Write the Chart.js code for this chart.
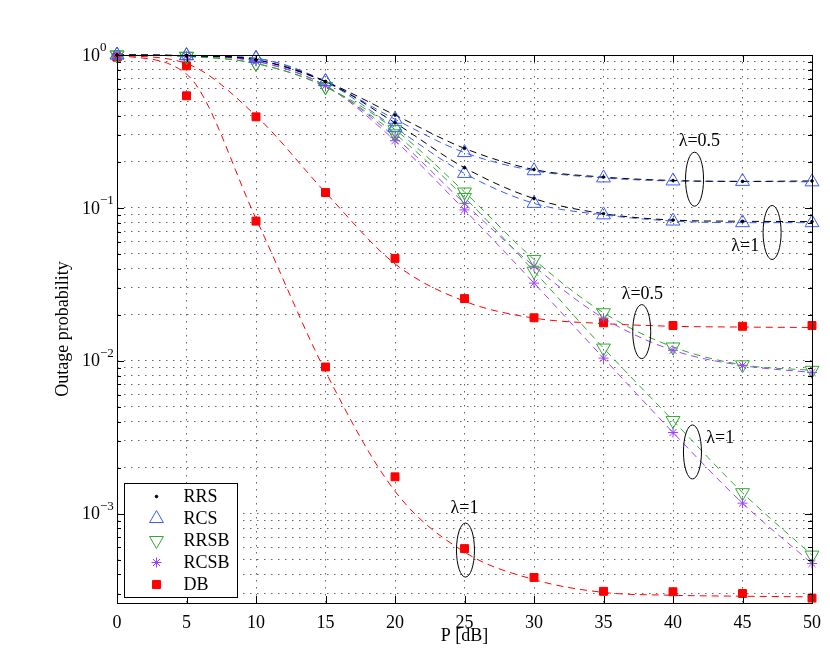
<!DOCTYPE html>
<html><head><meta charset="utf-8">
<script src="https://cdn.jsdelivr.net/npm/chart.js@4.4.0/dist/chart.umd.min.js"></script>
<style>html,body{margin:0;padding:0;background:#fff;}canvas{display:block;}</style>
</head><body>
<canvas id="c" width="830" height="654"></canvas>
<script>
// ---------- data ----------
const P = [0, 5, 10, 15, 20, 25, 30, 35, 40, 45, 50];

const RRS_05  = [1.0, 0.99, 0.93, 0.67, 0.405, 0.245, 0.178, 0.159, 0.151, 0.149, 0.150];
const RRS_1   = [1.0, 0.99, 0.93, 0.67, 0.36, 0.183, 0.115, 0.0916, 0.0832, 0.0817, 0.0813];
const RCS_05  = [1.0, 0.99, 0.95, 0.67, 0.38, 0.23, 0.175, 0.157, 0.150, 0.149, 0.148];
const RCS_1   = [1.0, 0.99, 0.95, 0.67, 0.335, 0.168, 0.107, 0.090, 0.082, 0.080, 0.080];
const RRSB_05 = [1.0, 0.98, 0.88, 0.62, 0.325, 0.127, 0.046, 0.0206, 0.0123, 0.0094, 0.00865];
const RRSB_1  = [1.0, 0.98, 0.88, 0.62, 0.305, 0.117, 0.0385, 0.0121, 0.00406, 0.00137, 0.000535];
const RCSB_05 = [1.0, 0.985, 0.91, 0.63, 0.29, 0.107, 0.0415, 0.019, 0.0117, 0.0093, 0.00838];
const RCSB_1  = [1.0, 0.985, 0.91, 0.63, 0.275, 0.097, 0.0322, 0.0104, 0.00339, 0.00117, 0.000471];
const DB_05   = [0.97, 0.85, 0.394, 0.126, 0.0467, 0.0255, 0.0191, 0.0177, 0.0170, 0.0168, 0.0170];
const DB_1    = [0.97, 0.541, 0.0819, 0.0091, 0.00174, 0.00059, 0.000382, 0.00031, 0.000308, 0.0003, 0.00028];

// analytical (dashed) curves where they differ from the simulated markers
const DB_05_line = [1.0, 0.88, 0.40, 0.126, 0.043, 0.0245, 0.019, 0.0175, 0.0168, 0.0166, 0.0165];
const DB_1_line  = [1.0, 0.75, 0.085, 0.0085, 0.0014, 0.00056, 0.00037, 0.000305, 0.000292, 0.000288, 0.000285];

const xTickVals = [0, 5, 10, 15, 20, 25, 30, 35, 40, 45, 50];
const yGridTicks = [0.0003, 0.0004, 0.0005, 0.0006, 0.0007, 0.0008, 0.0009,
  0.001, 0.002, 0.003, 0.004, 0.005, 0.006, 0.007, 0.008, 0.009,
  0.01, 0.02, 0.03, 0.04, 0.05, 0.06, 0.07, 0.08, 0.09,
  0.1, 0.2, 0.3, 0.4, 0.5, 0.6, 0.7, 0.8, 0.9, 1];
const yLabelVals = [1, 0.1, 0.01, 0.001];
const yLabelExps = ['0', '\u22121', '\u22122', '\u22123'];

const noteText = ['\u03bb=0.5', '\u03bb=1', '\u03bb=0.5', '\u03bb=1', '\u03bb=1'];
const noteX = [41.9, 45.2, 37.8, 43.4, 25.0];
const noteY = [0.273, 0.056, 0.0271, 0.00313, 0.00109];
const ringX = [41.55, 47.13, 37.75, 41.4, 25.07];
const ringY = [0.154, 0.069, 0.0155, 0.00253, 0.000577];

// ---------- styles ----------
const schemes = [
  {label: 'RRS',  color: '#000000', fill: '#000000', style: 'circle',   radius: 1.3, rot: 0,   sim: [RRS_05, RRS_1],   line: [RRS_05, RRS_1]},
  {label: 'RCS',  color: '#3a5cff', fill: 'rgba(0,0,0,0)', style: 'triangle', radius: 8, rot: 0,   sim: [RCS_05, RCS_1],   line: [RCS_05, RCS_1]},
  {label: 'RRSB', color: '#2eaa2e', fill: 'rgba(0,0,0,0)', style: 'triangle', radius: 8, rot: 180, sim: [RRSB_05, RRSB_1], line: [RRSB_05, RRSB_1]},
  {label: 'RCSB', color: '#a040ff', fill: 'rgba(0,0,0,0)', style: 'star',     radius: 5, rot: 0,   sim: [RCSB_05, RCSB_1], line: [RCSB_05, RCSB_1]},
  {label: 'DB',   color: '#ff0000', fill: '#ff0000', style: 'rect',     radius: 5.6, rot: 0, sim: [DB_05, DB_1],     line: [DB_05_line, DB_1_line]}
];

const toPts = arr => P.map((p, i) => ({x: p, y: arr[i]}));
const datasets = [];
schemes.forEach(s => {
  s.line.forEach(arr => datasets.push({
    label: s.label + ' curve', data: toPts(arr), showLine: true,
    borderColor: s.color, borderWidth: 1, borderDash: [7, 5],
    pointRadius: 0, fill: false, cubicInterpolationMode: 'monotone', clip: false, order: 2
  }));
  s.sim.forEach(arr => datasets.push({
    label: s.label, data: toPts(arr), showLine: false,
    pointStyle: s.style, pointRadius: s.radius, pointRotation: s.rot,
    pointBorderColor: s.color, pointBackgroundColor: s.fill, pointBorderWidth: 1,
    clip: false, order: 1
  }));
});

const FONT = '"Liberation Serif", "Times New Roman", serif';

const decor = {
  id: 'decor',
  afterDraw(chart) {
    const {ctx, chartArea: a, scales: {x, y}} = chart;
    ctx.save();
    // frame
    ctx.strokeStyle = '#000'; ctx.lineWidth = 1;
    ctx.strokeRect(Math.round(a.left) + 0.5, Math.round(a.top) + 0.5, Math.round(a.right - a.left), Math.round(a.bottom - a.top));
    // inward ticks
    ctx.beginPath();
    xTickVals.forEach(v => {
      const px = Math.round(x.getPixelForValue(v)) + 0.5;
      ctx.moveTo(px, a.bottom); ctx.lineTo(px, a.bottom - 7);
      ctx.moveTo(px, a.top); ctx.lineTo(px, a.top + 7);
    });
    yGridTicks.forEach(v => {
      const py = Math.round(y.getPixelForValue(v)) + 0.5;
      const major = yLabelVals.includes(v);
      const len = major ? 7 : 4;
      ctx.moveTo(a.left, py); ctx.lineTo(a.left + len, py);
      ctx.moveTo(a.right, py); ctx.lineTo(a.right - len, py);
    });
    ctx.stroke();
    // y tick labels 10^n
    ctx.fillStyle = '#000';
    yLabelVals.forEach((v, i) => {
      const py = y.getPixelForValue(v);
      ctx.font = '18px ' + FONT;
      ctx.textAlign = 'right'; ctx.textBaseline = 'middle';
      ctx.fillText('10', a.left - 17, py + 1);
      ctx.font = '13px ' + FONT;
      ctx.textAlign = 'left';
      ctx.fillText(yLabelExps[i], a.left - 17, py - 7);
    });
    // annotations
    ctx.font = '18px ' + FONT;
    ctx.textAlign = 'center'; ctx.textBaseline = 'middle';
    noteText.forEach((t, i) => ctx.fillText(t, x.getPixelForValue(noteX[i]), y.getPixelForValue(noteY[i])));
    ctx.lineWidth = 1; ctx.strokeStyle = '#000';
    ringX.forEach((rx, i) => {
      ctx.beginPath();
      ctx.ellipse(x.getPixelForValue(rx), y.getPixelForValue(ringY[i]), 9, 27, 0, 0, Math.PI * 2);
      ctx.stroke();
    });
    // legend box
    const bx = a.left + 7.5, by = a.top + 428.5, bw = 113, bh = 114;
    ctx.fillStyle = '#fff'; ctx.fillRect(bx, by, bw, bh);
    ctx.strokeStyle = '#000'; ctx.strokeRect(bx, by, bw, bh);
    schemes.forEach((s, i) => {
      const cy = by + 13 + i * 22;
      ctx.save();
      ctx.strokeStyle = s.color; ctx.fillStyle = s.fill; ctx.lineWidth = 1;
      Chart.helpers.drawPoint(ctx, {pointStyle: s.style, radius: s.radius, rotation: s.rot, borderWidth: 1}, bx + 32, cy);
      ctx.restore();
      ctx.fillStyle = '#000'; ctx.font = '18px ' + FONT;
      ctx.textAlign = 'left'; ctx.textBaseline = 'middle';
      ctx.fillText(s.label, bx + 59, cy + 1);
    });
    ctx.restore();
  }
};

new Chart(document.getElementById('c'), {
  type: 'scatter',
  data: {datasets},
  options: {
    responsive: false, animation: false, devicePixelRatio: 1,
    layout: {padding: {top: 55, right: 15, left: 0, bottom: 0}},
    plugins: {legend: {display: false}, tooltip: {enabled: false}},
    scales: {
      x: {
        type: 'linear', min: 0, max: 50,
        ticks: {stepSize: 5, color: '#000', font: {family: FONT, size: 18}, padding: 9, maxRotation: 0},
        grid: {color: '#666', lineWidth: 1, drawTicks: false},
        border: {display: false, dash: [1.5, 5.5]},
        title: {display: true, text: 'P [dB]', color: '#000', font: {family: FONT, size: 18}, padding: {top: 0, bottom: 7}},
        afterFit: s => { s.height = 51; }
      },
      y: {
        type: 'logarithmic', min: 0.00026, max: 1,
        afterBuildTicks: s => { s.ticks = yGridTicks.map(v => ({value: v})); },
        ticks: {display: false},
        grid: {color: '#666', lineWidth: 1, drawTicks: false},
        border: {display: false, dash: [1.5, 5.5]},
        title: {display: true, text: 'Outage probability', color: '#000', font: {family: FONT, size: 18}, padding: {top: 52, bottom: 0}},
        afterFit: s => { s.width = 117; }
      }
    }
  },
  plugins: [decor]
});
</script>
</body></html>
